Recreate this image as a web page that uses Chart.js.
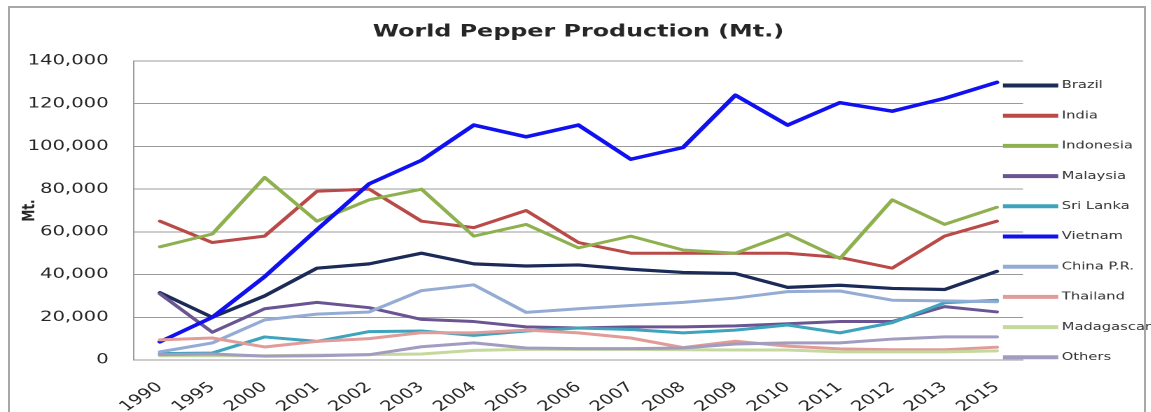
<!DOCTYPE html>
<html>
<head>
<meta charset="utf-8">
<title>World Pepper Production</title>
<script src="https://cdn.jsdelivr.net/npm/chart.js@4.4.1/dist/chart.umd.min.js"></script>
<style>
    html, body { margin: 0; padding: 0; background: #fff; overflow: hidden; }
    #frame {
        position: absolute; left: 8px; top: 6px;
        width: 1134px; height: 420px;
        border: 2px solid #a8a8a8;
    }
    /* the reference picture is stretched sideways, so draw narrow and widen */
    #stage {
        position: absolute; left: 0; top: 0;
        width: 822px; height: 412px;
        transform: scaleX(1.4); transform-origin: 0 0;
    }
</style>
</head>
<body>
<div id="frame"></div>
<div id="stage"><canvas id="pepperChart"></canvas></div>
<script>
// ============================================================
// DATA (Mt.)
// ============================================================
const years = ["1990", "1995", "2000", "2001", "2002", "2003", "2004", "2005", "2006",
               "2007", "2008", "2009", "2010", "2011", "2012", "2013", "2015"];

const brazil     = [31500, 20000, 30000, 43000, 45000, 50000, 45000, 44000, 44500, 42500, 41000, 40500, 34000, 35000, 33500, 33000, 41500];
const india      = [65000, 55000, 58000, 79000, 80000, 65000, 62000, 70000, 55000, 50000, 50000, 50000, 50000, 48000, 43000, 58000, 65000];
const indonesia  = [53000, 59000, 85500, 65000, 75000, 80000, 58000, 63500, 52500, 58000, 51500, 50000, 59000, 47500, 75000, 63500, 71500];
const malaysia   = [31000, 13000, 24000, 27000, 24500, 19000, 18000, 15500, 15000, 15500, 15500, 16000, 17000, 18000, 18000, 25000, 22500];
const sriLanka   = [3000, 3300, 10800, 8700, 13300, 13600, 11500, 13600, 15000, 14300, 12700, 14000, 16400, 12700, 17500, 26800, 28000];
const vietnam    = [8500, 20000, 39000, 61000, 82500, 93500, 110000, 104500, 110000, 94000, 99500, 124000, 110000, 120500, 116500, 122500, 130000];
const chinaPR    = [3800, 8000, 18800, 21500, 22500, 32500, 35200, 22300, 24000, 25500, 27000, 29000, 32000, 32300, 28000, 27700, 27300];
const thailand   = [9400, 10300, 6100, 8700, 10000, 12800, 12700, 14000, 12700, 10300, 5800, 8800, 6500, 5200, 4800, 4800, 6000];
const madagascar = [2000, 2000, 2000, 2300, 2500, 2800, 4500, 5000, 5000, 5000, 4800, 4700, 4700, 3800, 3800, 3800, 4300];
const others     = [2500, 2800, 1800, 2000, 2500, 6200, 8000, 5600, 5300, 5300, 5600, 7500, 8000, 8000, 9800, 10800, 10800];

const yTicks = [0, 20000, 40000, 60000, 80000, 100000, 120000, 140000];

// ============================================================
// LOOK
// ============================================================
const FONT = "'DejaVu Sans', sans-serif";
const INK = "#262626";
const GRID = "#9a9a9a";

const series = [
    { label: "Brazil",     data: brazil,     color: "#1b2a57", width: 3.2 },
    { label: "India",      data: india,      color: "#b94a48" },
    { label: "Indonesia",  data: indonesia,  color: "#8fb04f" },
    { label: "Malaysia",   data: malaysia,   color: "#6a5592" },
    { label: "Sri Lanka",  data: sriLanka,   color: "#3ea4bd" },
    { label: "Vietnam",    data: vietnam,    color: "#1010f0", width: 3.5 },
    { label: "China P.R.", data: chinaPR,    color: "#94acd4" },
    { label: "Thailand",   data: thailand,   color: "#e19c9a" },
    { label: "Madagascar", data: madagascar, color: "#c5d89e" },
    { label: "Others",     data: others,     color: "#a19cc0" }
];

// legend sits over the right end of the plot, like the Excel original
const LEGEND = { x: 716.4, top: 85.5, step: 30.2, len: 39.5, gap: 2.5 };

const sideLegend = {
    id: "sideLegend",
    afterDraw(chart) {
        const c = chart.ctx;
        c.save();
        c.font = "10.5px " + FONT;
        c.textBaseline = "middle";
        c.textAlign = "left";
        chart.data.datasets.forEach((ds, i) => {
            const y = LEGEND.top + i * LEGEND.step;
            c.strokeStyle = ds.borderColor;
            c.lineWidth = 4;
            c.lineCap = "butt";
            c.beginPath();
            c.moveTo(LEGEND.x, y);
            c.lineTo(LEGEND.x + LEGEND.len, y);
            c.stroke();
            c.fillStyle = "#333";
            c.fillText(ds.label, LEGEND.x + LEGEND.len + LEGEND.gap, y);
        });
        c.restore();
    }
};

// ============================================================
// CHART
// ============================================================
new Chart(document.getElementById("pepperChart"), {
    type: "line",
    data: {
        labels: years,
        datasets: series.map((s, i) => ({
            label: s.label,
            data: s.data,
            borderColor: s.color,
            backgroundColor: s.color,
            borderWidth: s.width || 3,
            borderJoinStyle: "round",
            borderCapStyle: "round",
            pointRadius: 0,
            pointHoverRadius: 0,
            tension: 0,
            fill: false,
            order: series.length - i   // later series on top
        }))
    },
    options: {
        responsive: true,
        maintainAspectRatio: false,
        animation: false,
        devicePixelRatio: 2,
        layout: { padding: { left: 0, right: 91.3, top: 0, bottom: 0 } },
        plugins: {
            legend: { display: false },
            tooltip: { enabled: false },
            title: {
                display: true,
                text: "World Pepper Production (Mt.)",
                fullSize: false,
                color: INK,
                font: { family: FONT, size: 17, weight: "bold" },
                padding: { top: 22, bottom: 18.6 }
            }
        },
        scales: {
            x: {
                type: "category",
                offset: true,
                grid: { display: false },
                border: { display: true, color: GRID, width: 1 },
                ticks: {
                    color: INK,
                    font: { family: FONT, size: 14 },
                    minRotation: 42,
                    maxRotation: 42,
                    autoSkip: false,
                    padding: 11
                },
                afterFit(scale) { scale.height = 52; }
            },
            y: {
                min: 0,
                max: 140000,
                afterBuildTicks(scale) { scale.ticks = yTicks.map(v => ({ value: v })); },
                grid: { color: GRID, lineWidth: 1, drawTicks: false },
                border: { display: true, color: GRID, width: 1 },
                ticks: {
                    color: INK,
                    font: { family: FONT, size: 14 },
                    padding: 18,
                    callback: v => v.toLocaleString("en-US")
                },
                title: {
                    display: true,
                    text: "Mt.",
                    color: INK,
                    font: { family: FONT, size: 12, weight: "bold" },
                    padding: { top: 14, bottom: 0 }
                },
                afterFit(scale) { scale.width = 95.6; }
            }
        }
    },
    plugins: [sideLegend]
});
</script>
</body>
</html>
